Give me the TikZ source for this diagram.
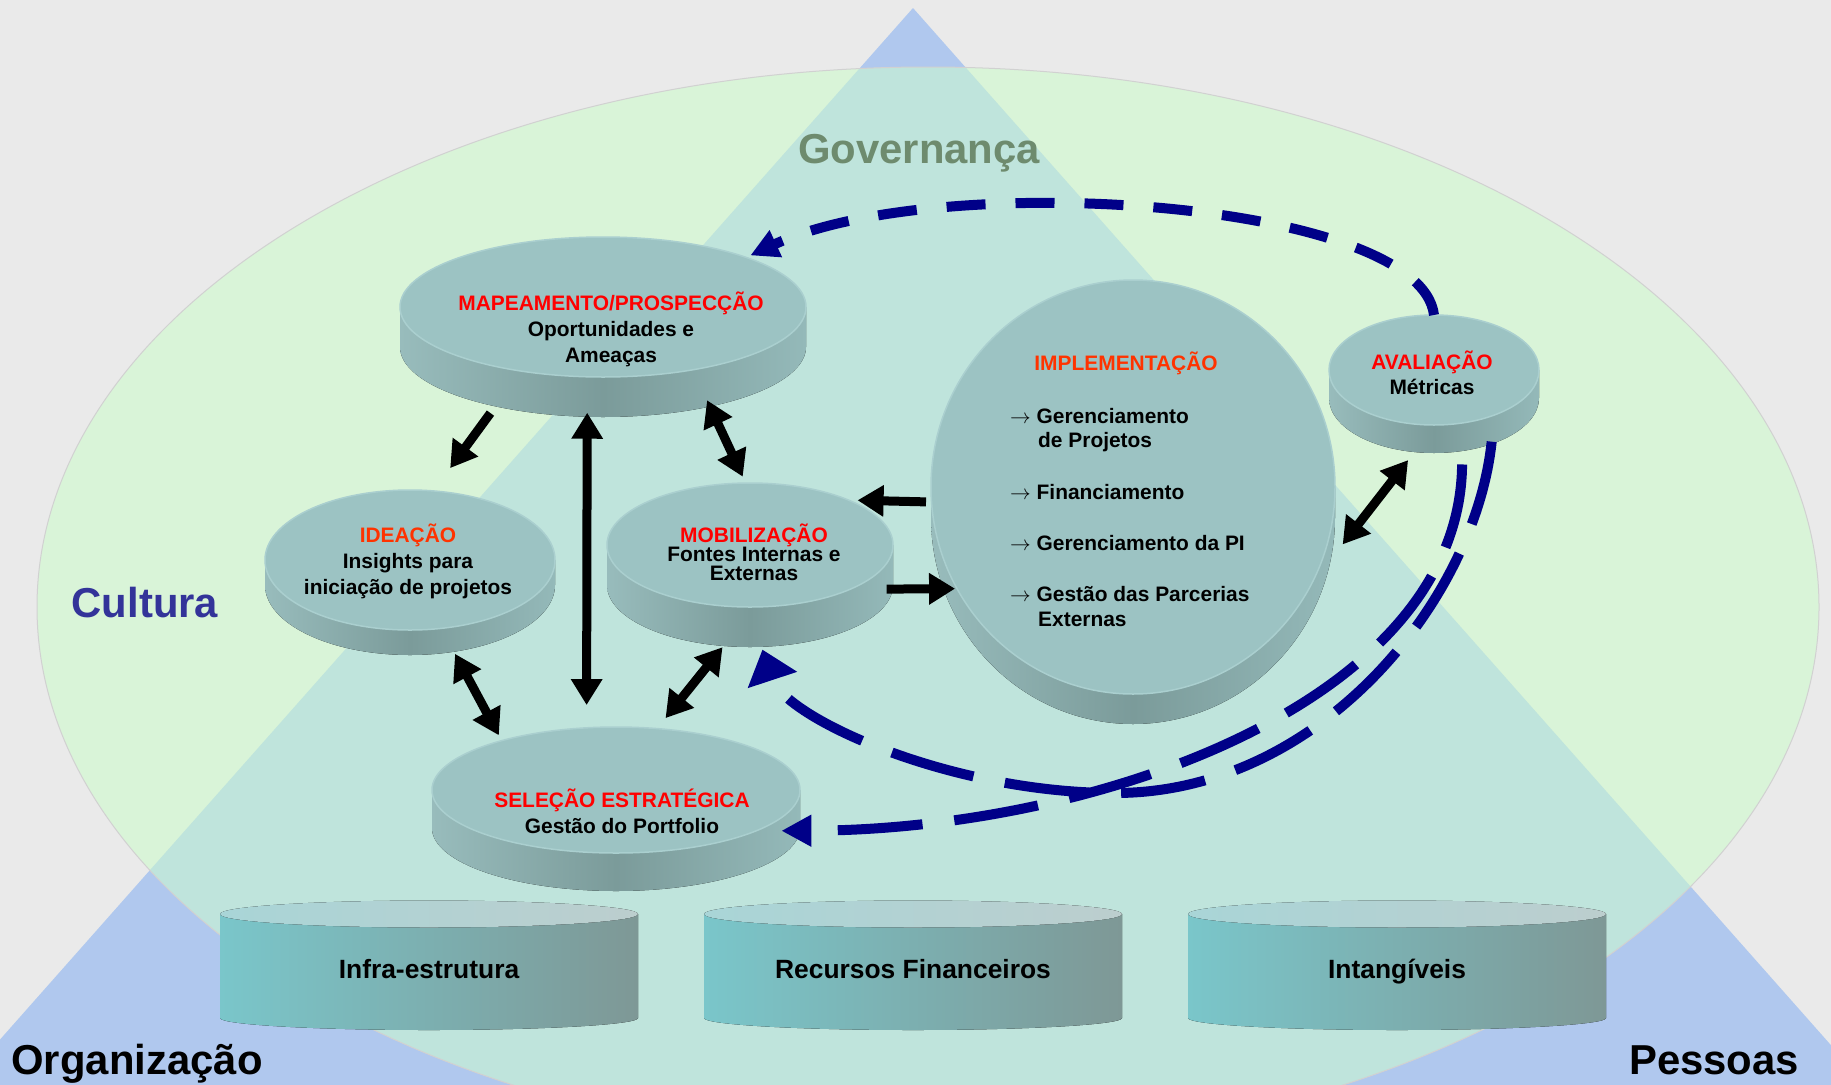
\documentclass[tikz,border=0pt]{standalone}
\usepackage{fontspec}
\setmainfont{Liberation Sans}
\usetikzlibrary{arrows.meta,shapes.geometric}
\definecolor{bggray}{HTML}{EAEAEA}
\definecolor{triblue}{HTML}{B0C8EE}
\definecolor{cultgreen}{HTML}{D9F4D8}
\definecolor{mixteal}{HTML}{BFE4DC}
\definecolor{faceteal}{HTML}{9CC3C3}
\definecolor{facerim}{HTML}{AACFCF}
\definecolor{sideL}{HTML}{98BCBC}
\definecolor{sideM}{HTML}{7B9B9A}
\definecolor{sideR}{HTML}{94B9B9}
\definecolor{drumL}{HTML}{7AC6CA}
\definecolor{drumR}{HTML}{7E9896}
\definecolor{drumtopL}{HTML}{A9D5D7}
\definecolor{drumtopR}{HTML}{BCCECE}
\definecolor{loopblue}{HTML}{000088}
\definecolor{labred}{HTML}{FF0000}
\definecolor{labora}{HTML}{FF3300}
\definecolor{govgreen}{HTML}{6E8B6E}
\definecolor{cultblue}{HTML}{333399}

\tikzset{
  diskshape/.style={ellipse, inner sep=0pt, outer sep=0pt},
  sideshade/.style={left color=sideL, right color=sideR, middle color=sideM},
  disktext/.style={font=\fontsize{21}{26}\selectfont\bfseries, align=center, inner sep=0pt},
  drumtext/.style={font=\fontsize{26.5}{30}\selectfont\bfseries, inner sep=0pt, anchor=base},
  biglbl/.style={font=\fontsize{42}{48}\selectfont\bfseries, inner sep=0pt, anchor=base},
  blkarrow/.style={line width=9bp, -{Triangle[length=26bp,width=30bp]}},
  blkdouble/.style={line width=9bp, {Triangle[length=26bp,width=30bp]}-{Triangle[length=26bp,width=30bp]}},
  loopdash/.style={draw=loopblue, line width=10bp}
}

\newcommand{\platedisk}[6]{%
  \fill[sideshade] (#2-#4,#3) -- (#2-#4,#3+#6)
    arc[start angle=180, end angle=0, x radius=#4, y radius=#5] -- (#2+#4,#3) -- cycle;
  \filldraw[fill=faceteal, draw=facerim, line width=1.5bp] (#2,#3) ellipse [x radius=#4, y radius=#5];
  \node[diskshape, minimum width=2*#4bp, minimum height=2*#5bp+#6bp] (#1) at (#2,#3+#6/2) {};
}
\newcommand{\resdrum}[3]{%
  \fill[left color=drumL, right color=drumR] (#2-209,914) -- (#2-209,1018)
    arc[start angle=180, end angle=0, x radius=209, y radius=12] -- (#2+209,914) -- cycle;
  \fill[left color=drumtopL, right color=drumtopR] (#2,914) ellipse [x radius=209, y radius=13.5];
  \node[drumtext] (#1) at (#2,978) {#3};
}

\begin{document}
\begin{tikzpicture}[x=1bp,y=-1bp]
\useasboundingbox (0,0) rectangle (1831,1084);
\clip (0,0) rectangle (1831,1084);
\fill[bggray] (0,0) rectangle (1831,1084);
\fill[triblue] (913,8) -- (-142,1200) -- (1968,1200) -- cycle;
\fill[cultgreen] (928,607) ellipse [x radius=891, y radius=540];
\begin{scope}
  \clip (928,607) ellipse [x radius=891, y radius=540];
  \fill[mixteal] (913,8) -- (-142,1200) -- (1968,1200) -- cycle;
\end{scope}
\draw[black!18, line width=1bp] (928,607) ellipse [x radius=891, y radius=540];

\resdrum{infra}{429}{Infra-estrutura}
\resdrum{recfin}{913}{Recursos Financeiros}
\resdrum{intang}{1397}{Intangíveis}

\platedisk{mapa}{603}{307}{203}{70}{40}
\platedisk{idea}{410}{560}{145}{70}{25}
\platedisk{mobi}{750}{545}{143}{62}{40}
\platedisk{impl}{1133}{487}{202}{207}{30}
\platedisk{aval}{1434}{370}{105}{55}{28}
\platedisk{sele}{616}{790}{184}{63}{38}

\node[disktext] (mapa-l) at ([shift={(8,2)}]mapa.center) {\textcolor{labred}{MAPEAMENTO/PROSPECÇÃO}\\Oportunidades e\\Ameaças};
\node[disktext] (idea-l) at ([shift={(-2,-11)}]idea.center) {\textcolor{labora}{IDEAÇÃO}\\Insights para\\iniciação de projetos};
\node[disktext, font=\fontsize{21}{19}\selectfont\bfseries] (mobi-l) at ([shift={(4,-13)}]mobi.center) {\textcolor{labred}{MOBILIZAÇÃO}\\Fontes Internas e\\Externas};
\node[disktext, font=\fontsize{21}{25}\selectfont\bfseries] (aval-l) at ([shift={(-2,-11.5)}]aval.center) {\textcolor{labred}{AVALIAÇÃO}\\Métricas};
\node[disktext] (sele-l) at ([shift={(6,2)}]sele.center) {\textcolor{labred}{SELEÇÃO ESTRATÉGICA}\\Gestão do Portfolio};
\node[disktext, anchor=base, text=labora] (impl-h) at ([shift={(-7,-131.3)}]impl.center) {IMPLEMENTAÇÃO};
\node[disktext, align=left, anchor=west, font=\fontsize{21}{24.5}\selectfont\bfseries] (impl-l) at ([shift={(-123,15.3)}]impl.center)
  {$\rightarrow$ Gerenciamento\\\hspace*{28bp}de Projetos\\[27bp]$\rightarrow$ Financiamento\\[27bp]$\rightarrow$ Gerenciamento da PI\\[27bp]$\rightarrow$ Gestão das Parcerias\\\hspace*{28bp}Externas};

\draw[blkarrow, shorten <=11.5bp, shorten >=28.5bp] (mapa.216) -- (idea.74);
\draw[blkdouble, shorten <=-4bp, shorten >=23bp] (mapa.260) -- (sele.110);
\draw[blkdouble, shorten <=-4bp, shorten >=7bp] (mapa.324) -- (mobi.93);
\draw[blkdouble, shorten <=3bp, shorten >=10bp] (idea.299) -- (sele.150);
\draw[blkdouble, shorten <=2bp, shorten >=14bp] (mobi.252) -- (sele.63);
\draw[blkarrow, shorten <=5bp, shorten >=21bp] (impl.180) -- (mobi.37);
\draw[blkarrow, shorten >=-8bp] (mobi.350) -- (impl.205);
\draw[blkdouble, shorten <=10.5bp, shorten >=26bp] (aval.254) -- (impl.342);

\draw[loopdash, dash pattern=on 39bp off 30bp, -{Triangle[length=28bp,width=28bp]}, shorten >=12bp]
  (aval.north) .. controls (1420,200) and (940,168) .. (mapa.26);
\draw[loopdash, dash pattern=on 85bp off 32bp, -{Triangle[length=30bp,width=30bp]}, shorten <=14bp]
  (aval.293) .. controls (1460,700) and (1100,830) .. ([xshift=-12bp]sele.353);
\draw[loopdash, dash pattern=on 85bp off 32bp, -{Triangle[length=32bp,width=50bp]}, shorten >=3bp]
  (aval.315) .. controls (1475,600) and (1320,793) .. (1115,793)
  .. controls (950,793) and (785,718) .. (mobi.278);

\node[biglbl, text=govgreen] (gov) at (919,163) {Governança};
\node[biglbl, text=cultblue] (cult) at (145,617) {Cultura};
\node[biglbl] (org) at (137,1074) {Organização};
\node[biglbl] (pess) at (1714,1074) {Pessoas};
\end{tikzpicture}
\end{document}
